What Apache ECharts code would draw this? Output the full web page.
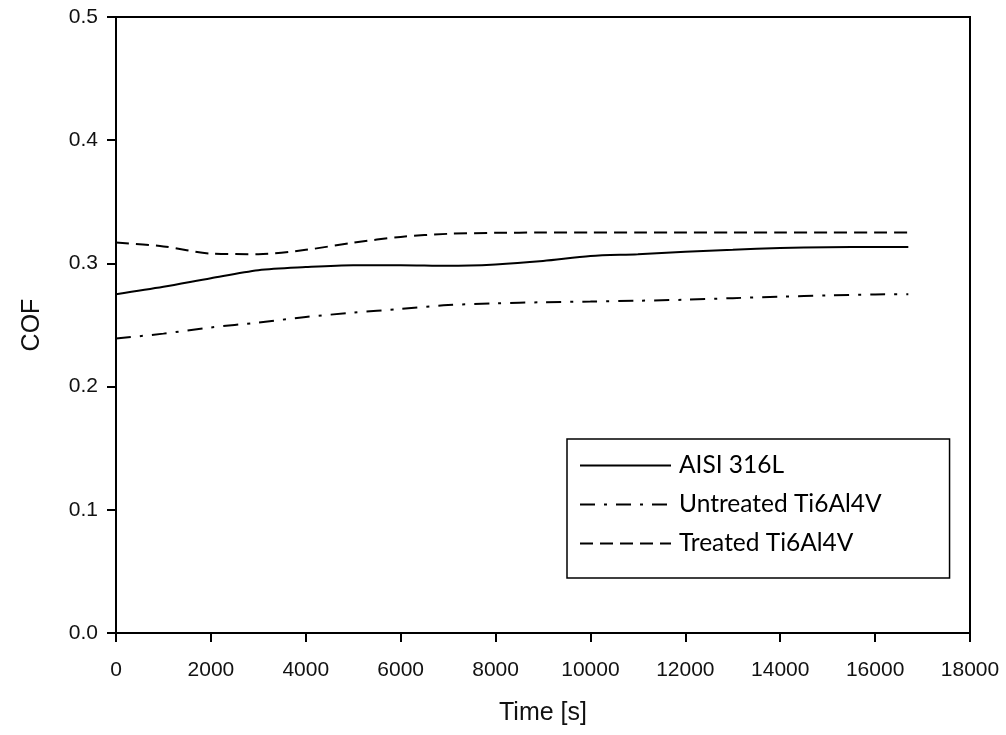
<!DOCTYPE html>
<html>
<head>
<meta charset="utf-8">
<script src="https://cdn.jsdelivr.net/npm/echarts@6/dist/echarts.min.js"></script>
<style>
  html, body { margin: 0; padding: 0; background: #fff; }
  #chart { width: 1006px; height: 735px; }
</style>
</head>
<body>
<div id="chart"></div>
<script>
// Time stamps of the sampled friction curves, in seconds
const timeS = [0, 1000, 2000, 3000, 4000, 5000, 6000, 7000, 8000, 9000,
               10000, 11000, 12000, 13000, 14000, 15000, 16000, 16700];

// Coefficient of friction per material
const cofAisi316L = [0.275, 0.281, 0.288, 0.2945, 0.297, 0.2985, 0.2985, 0.298, 0.2992, 0.302,
                     0.306, 0.3075, 0.3095, 0.311, 0.3125, 0.3132, 0.3133, 0.3133];
const cofUntreated = [0.239, 0.243, 0.248, 0.252, 0.2565, 0.26, 0.263, 0.2662, 0.2675, 0.2685,
                      0.269, 0.2697, 0.2705, 0.2718, 0.273, 0.274, 0.2748, 0.275];
const cofTreated = [0.317, 0.3138, 0.308, 0.3075, 0.311, 0.3168, 0.3215, 0.324, 0.3248, 0.325,
                    0.325, 0.325, 0.325, 0.325, 0.325, 0.325, 0.325, 0.325];

const seriesNames = ['AISI 316L', 'Untreated Ti6Al4V', 'Treated Ti6Al4V'];

const xTicks = { min: 0, max: 18000, step: 2000 };
const yTicks = { min: 0, max: 0.5, step: 0.1 };

const pairs = (ys) => timeS.map((t, i) => [t, ys[i]]);

const axisFont = 'Liberation Sans, Arial, sans-serif';
const ink = '#111';

const chart = echarts.init(document.getElementById('chart'), null, { renderer: 'canvas' });

const lineSeries = (name, ys, dash) => ({
  name: name,
  type: 'line',
  data: pairs(ys),
  symbol: 'none',
  smooth: 0.3,
  lineStyle: { color: '#000', width: 2, type: dash },
  itemStyle: { color: '#000' },
  animation: false
});

chart.setOption({
  backgroundColor: '#fff',
  animation: false,
  grid: {
    left: 116, right: 36, top: 17, bottom: 102,
    show: true, borderColor: '#000', borderWidth: 2, backgroundColor: 'transparent'
  },
  xAxis: {
    type: 'value',
    min: xTicks.min, max: xTicks.max, interval: xTicks.step,
    name: 'Time [s]',
    nameLocation: 'middle',
    nameGap: 68,
    nameTextStyle: { fontFamily: axisFont, fontSize: 25, color: ink },
    axisLine: { show: true, lineStyle: { color: '#000', width: 2 } },
    axisTick: { show: true, length: 9, lineStyle: { color: '#000', width: 2 } },
    axisLabel: {
      margin: 27, fontFamily: axisFont, fontSize: 21, color: ink,
      formatter: (v) => String(v)
    },
    splitLine: { show: false }
  },
  yAxis: {
    type: 'value',
    min: yTicks.min, max: yTicks.max, interval: yTicks.step,
    name: 'COF',
    nameLocation: 'middle',
    nameGap: 71,
    nameTextStyle: { fontFamily: axisFont, fontSize: 25, color: ink },
    axisLine: { show: true, lineStyle: { color: '#000', width: 2 } },
    axisTick: { show: true, length: 9, lineStyle: { color: '#000', width: 2 } },
    axisLabel: {
      margin: 18, fontFamily: axisFont, fontSize: 21, color: ink,
      formatter: (v) => v.toFixed(1)
    },
    splitLine: { show: false }
  },
  legend: {
    data: seriesNames,
    orient: 'vertical',
    left: 567,
    top: 439,
    padding: [14, 68, 22, 12],
    itemGap: 14,
    itemWidth: 91,
    itemHeight: 14,
    borderColor: '#000',
    borderWidth: 1.5,
    backgroundColor: '#fff',
    itemStyle: { opacity: 0 },
    textStyle: {
      fontFamily: 'Lato, "Open Sans", sans-serif',
      fontSize: 24.5,
      color: '#000',
      padding: [0, 0, 0, 3],
      lineHeight: 24
    }
  },
  series: [
    lineSeries(seriesNames[0], cofAisi316L, 'solid'),
    lineSeries(seriesNames[1], cofUntreated, [15, 9, 3, 9]),
    lineSeries(seriesNames[2], cofTreated, [13, 7])
  ]
});
</script>
</body>
</html>
